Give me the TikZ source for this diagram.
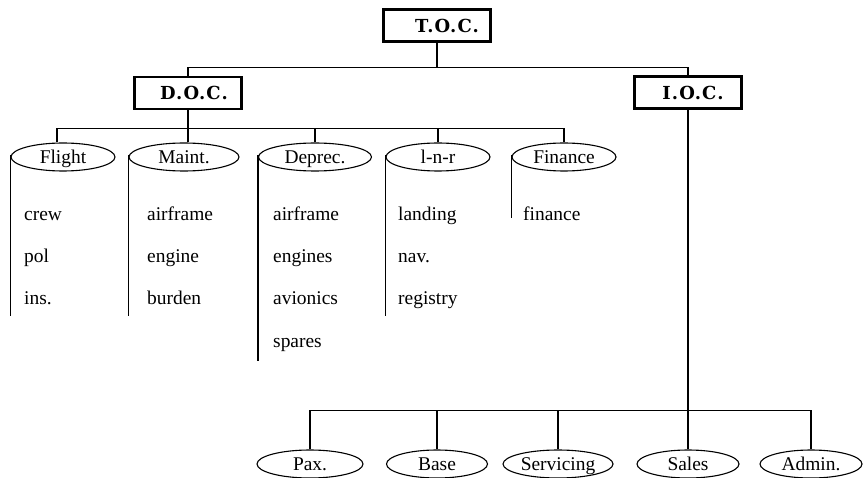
\documentclass[tikz,border=0pt]{standalone}
\usepackage{fontspec}
\setmainfont{Liberation Serif}
\newfontfamily\boxfont{DejaVu Serif Bold}[LetterSpace=6]
\usetikzlibrary{shapes.geometric}
\tikzset{
  conn/.style={line width=1.1bp},
  bigbox/.style={draw, line width=2.8bp, minimum width=107bp, minimum height=32bp, inner sep=0pt,
    font=\boxfont\fontsize{18}{21}\selectfont},
  cat/.style={draw, ellipse, line width=1.1bp, minimum width=104bp, minimum height=28bp, inner sep=0pt,
    text height=13.5bp, text depth=0bp, font=\fontsize{19.5}{22}\selectfont},
  item/.style={anchor=base west, inner sep=0pt, font=\fontsize{19.5}{22}\selectfont}
}
\begin{document}
\begin{tikzpicture}[x=1bp,y=-1bp]
\useasboundingbox (0,0) rectangle (863,478);
% top level boxes
\node[bigbox] (toc) at (437,25.5) {\hspace*{20bp}T.O.C.};
\node[bigbox] (doc) at (188,93) {\hspace*{12bp}D.O.C.};
\node[bigbox] (ioc) at (688,92.5) {\hspace*{10bp}I.O.C.};
% D.O.C. categories
\node[cat] (fl)  at (63,157)  {Flight};
\node[cat, minimum width=110bp] (mt)  at (184,157) {Maint.};
\node[cat, minimum width=113bp] (dep) at (315,157) {Deprec.};
\node[cat] (lnr) at (438,157) {l-n-r};
\node[cat] (fin) at (564,157) {Finance};
% I.O.C. categories
\node[cat, minimum width=106bp] (pax)   at (310,464) {Pax.};
\node[cat, minimum width=101bp] (base)  at (437,464) {Base};
\node[cat, minimum width=110bp] (serv)  at (558,464) {Servicing};
\node[cat, minimum width=102bp] (sales) at (688,464) {Sales};
\node[cat, minimum width=102bp] (adm)   at (811,464) {Admin.};
% items
\node[item] (f1) at (24,221) {crew};
\node[item] (f2) at (24,263) {pol};
\node[item] (f3) at (24,305) {ins.};
\node[item] (m1) at (147,221) {airframe};
\node[item] (m2) at (147,263) {engine};
\node[item] (m3) at (147,305) {burden};
\node[item] (d1) at (273,221) {airframe};
\node[item] (d2) at (273,263) {engines};
\node[item] (d3) at (273,305) {avionics};
\node[item] (d4) at (273,347) {spares};
\node[item] (l1) at (398,221) {landing};
\node[item] (l2) at (398,263) {nav.};
\node[item] (l3) at (398,305) {registry};
\node[item] (n1) at (523,221) {finance};
% connectors top
\draw[conn] (toc.south) -- ++(0,25) coordinate (tj);
\draw[conn] (doc.north) |- (tj) -| (ioc.north);
% D.O.C. tree
\draw[conn] (doc.south) -- ++(0,18) coordinate (dj);
\draw[conn] (dj) -- (mt.north -| dj);
\draw[conn] ([xshift=-6bp]fl.north) |- (dj);
\draw[conn] (dj) -| (fin.north);
\draw[conn] (dep.north) -- (dep.north |- dj);
\draw[conn] (lnr.north) -- (lnr.north |- dj);
% side bars
\draw[conn] ([yshift=2bp]fl.west)  -- ++(0,161);
\draw[conn] ([yshift=2bp]mt.west)  -- ++(0,161);
\draw[conn] ([yshift=2bp]dep.west) -- ++(0,206);
\draw[conn] ([yshift=2bp]lnr.west) -- ++(0,161);
\draw[conn] ([yshift=2bp]fin.west) -- ++(0,63);
% I.O.C. tree
\draw[conn] (ioc.south) -- (sales.north);
\path (ioc.south) -- ++(0,301) coordinate (ij);
\draw[conn] (pax.north) |- (ij) -| (adm.north);
\draw[conn] (base.north) -- (base.north |- ij);
\draw[conn] (serv.north) -- (serv.north |- ij);
\end{tikzpicture}
\end{document}
